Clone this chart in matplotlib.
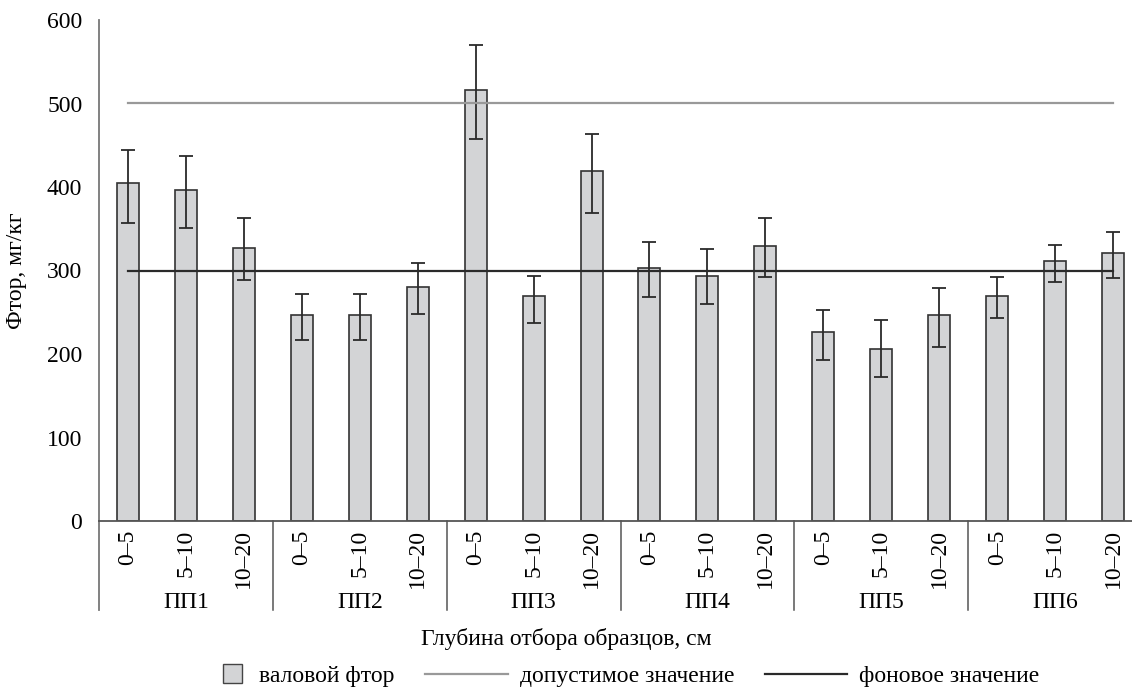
import matplotlib
matplotlib.use("Agg")
import matplotlib.pyplot as plt
import matplotlib.transforms as mtrans
from matplotlib.patches import Patch, Rectangle
from matplotlib.lines import Line2D
from matplotlib.legend_handler import HandlerPatch
import numpy as np

plt.rcParams["font.family"] = ["Liberation Serif", "DejaVu Serif"]

# данные
plots = ["ПП1", "ПП2", "ПП3", "ПП4", "ПП5", "ПП6"]
depths = ["0–5", "5–10", "10–20"]
fluor = [405, 397, 327, 247, 247, 280, 516, 269, 419,
         303, 293, 329, 226, 206, 247, 269, 311, 321]
err_low = [48, 46, 38, 30, 30, 32, 59, 32, 50,
           35, 33, 37, 33, 34, 39, 26, 25, 30]
err_high = [39, 40, 36, 25, 25, 29, 54, 24, 44,
            31, 33, 34, 27, 35, 32, 23, 20, 25]
allowed = 500
background = 300

FS = 17


class SquarePatch(HandlerPatch):
    """квадратный значок в легенде, как в оригинале"""
    def create_artists(self, legend, orig, xd, yd, w, h, fontsize, trans):
        s = h * 1.15
        r = Rectangle((xd + w - s - 4, yd + (h - s) / 2), s, s,
                      facecolor=orig.get_facecolor(), edgecolor=orig.get_edgecolor(),
                      lw=orig.get_linewidth(), transform=trans)
        return [r]


n = len(fluor)
x = np.arange(n)

fig = plt.figure(figsize=(11.32, 6.89), dpi=100)
ax = fig.add_axes([99 / 1132, 168 / 689, 1043 / 1132, 501 / 689])

ax.bar(x, fluor, width=0.38, color="#d3d4d6", edgecolor="#333333", linewidth=1.2,
       yerr=[err_low, err_high],
       error_kw=dict(ecolor="#2a2a2a", elinewidth=1.3, capsize=5, capthick=1.3),
       zorder=2)
ax.plot([x[0], x[-1]], [allowed, allowed], color="#999999", lw=1.6, zorder=3)
ax.plot([x[0], x[-1]], [background, background], color="#2a2a2a", lw=1.6, zorder=3)

ax.set_xlim(-0.5, n - 0.5)
ax.set_ylim(0, 600)
ax.set_yticks(range(0, 601, 100))
ax.tick_params(axis="y", length=0, labelsize=FS, pad=12)
ax.set_xticks(x)
ax.set_xticklabels(depths * len(plots), rotation=90, fontsize=FS)
ax.tick_params(axis="x", length=0, pad=6)

for s in ["top", "right"]:
    ax.spines[s].set_visible(False)
ax.spines["left"].set_color("#777777")
ax.spines["left"].set_linewidth(1.3)
ax.spines["bottom"].set_color("#555555")
ax.spines["bottom"].set_linewidth(1.3)

# разделители групп и подписи площадок
trans = mtrans.blended_transform_factory(ax.transData, ax.transAxes)
low = -89 / 501
for g in range(len(plots)):
    xs = g * 3 - 0.5
    ax.add_line(Line2D([xs, xs], [0, low], transform=trans, clip_on=False,
                       color="#555555" if g else "#777777", lw=1.1 if g else 1.3))
    ax.text(g * 3 + 1, -81 / 501, plots[g], transform=trans, ha="center",
            va="center", fontsize=FS)

fig.text(566 / 1132, 1 - 639 / 689, "Глубина отбора образцов, см", ha="center",
         va="center", fontsize=FS)
ax.set_ylabel("Фтор, мг/кг", fontsize=FS)
ax.yaxis.set_label_coords(-72 / 1043, 0.5)

handles = [Patch(facecolor="#d3d4d6", edgecolor="#444444", lw=1.0),
           Line2D([], [], color="#999999", lw=1.6),
           Line2D([], [], color="#2a2a2a", lw=1.6)]
fig.legend(handles, ["валовой фтор", "допустимое значение", "фоновое значение"],
           loc="center", bbox_to_anchor=(602 / 1132, 1 - 676 / 689), ncol=3,
           frameon=False, fontsize=FS, handlelength=3.5, columnspacing=1.3,
           handletextpad=0.5, borderaxespad=0, borderpad=0,
           handler_map={Patch: SquarePatch()})

fig.savefig("out.png", dpi=100)
